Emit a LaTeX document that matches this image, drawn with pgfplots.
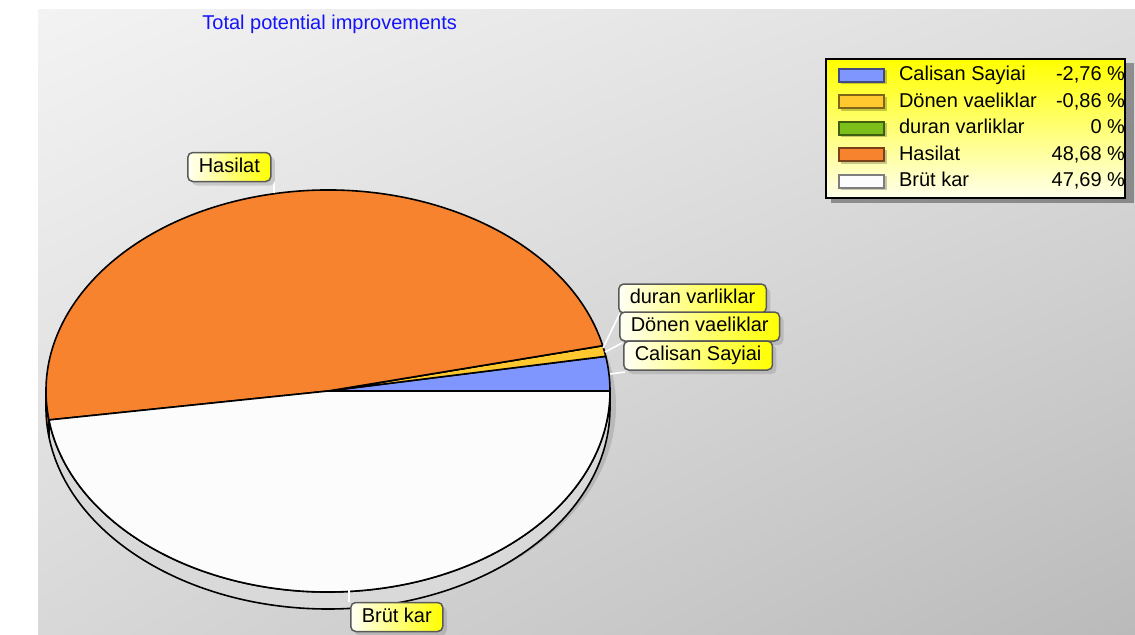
\documentclass[border=0pt]{standalone}
\usepackage{fontspec}
\setmainfont{Liberation Sans}
\usepackage{pgfplots}
\usepackage{pgfplotstable}
\pgfplotsset{compat=1.18}
\usetikzlibrary{shadows,shadings}

\definecolor{pieblue}{RGB}{128,150,255}
\definecolor{pieyellow}{RGB}{255,200,46}
\definecolor{piegreen}{RGB}{124,190,26}
\definecolor{pieorange}{RGB}{248,131,47}
\definecolor{piewhite}{RGB}{252,252,252}
\definecolor{titleblue}{RGB}{20,20,250}
\definecolor{bgul}{RGB}{243,243,243}
\definecolor{bgur}{RGB}{222,222,222}
\definecolor{bgll}{RGB}{216,216,216}
\definecolor{bglr}{RGB}{186,186,186}

\pgfplotstableread[col sep=semicolon]{
name;value;color
Calisan Sayiai;-2.76;pieblue
Dönen vaeliklar;-0.86;pieyellow
duran varliklar;0;piegreen
Hasilat;48.68;pieorange
Brüt kar;47.69;piewhite
}\piedata

\newcommand\legrow[2]{\makebox[75.5pt][l]{#1}\makebox[37.5pt][r]{\pgfmathprintnumber[assume math mode=true,use comma,fixed,precision=2]{#2}~\%}\hspace{2.5pt}}

\pgfplotsset{
  pieswatch/.style={legend image code/.code={%
    \path[draw=none] (0pt,0pt) -- (36.5pt,0pt);
    \fill[draw=none, black, opacity=0.22] (7.5pt,-4.5pt) rectangle (30.5pt,2.5pt);
    \draw[fill=#1, draw=#1!50!black, line width=0.8pt] (6.5pt,-3.25pt) rectangle (29pt,3.25pt);}},
}
\tikzset{
  lbl/.style={draw=black!65, line width=0.75pt, rounded corners=2.5pt,
    left color=white!96!yellow, right color=yellow,
    inner xsep=5.5pt, inner ysep=0pt, minimum height=14.5pt,
    text height=7.2pt, text depth=2pt, anchor=west,
    font=\fontsize{10}{12}\selectfont,
    drop shadow={shadow xshift=2pt, shadow yshift=-2pt, opacity=0.3}},
}

\begin{document}
\begin{tikzpicture}
\begin{axis}[
  scale only axis, width=567.5pt, height=317pt,
  xmin=0, xmax=1135, ymin=0, ymax=634,
  hide axis, clip=false,
  legend cell align=left,
  legend style={
    at={(0.7269,0.9085)}, anchor=north west,
    draw=black, line width=1pt,
    top color=yellow, bottom color=white!92!yellow,
    inner xsep=0pt, inner ysep=1.5pt,
    row sep=0pt, column sep=0pt,
    font=\fontsize{10}{12}\selectfont,
    nodes={inner xsep=0pt, inner ysep=1.75pt, text height=7.5pt, text depth=2.25pt},
  },
]
\pgfplotsextra{
  % background
  \fill[white] (axis cs:0,0) rectangle (axis cs:1135,634);
  \shade[upper left=bgul, upper right=bgur, lower left=bgll, lower right=bglr]
     (axis cs:38,0) rectangle (axis cs:1135,625);
  \node[anchor=base west, text=titleblue, inner sep=0pt, font=\fontsize{10}{12}\selectfont]
     at (axis cs:202,605) {Total potential improvements};
  % shadow behind the legend box
  \fill[black, opacity=0.35] (axis cs:831,431) rectangle (axis cs:1134,571);
  % shadow of the pie
  \fill[black, opacity=0.12] (axis cs:334,228) ellipse[x radius=141pt, y radius=100.5pt];
  % side of the pie (front half)
  \gdef\angA{0}
  \foreach \i in {0,...,4}{
    \pgfplotstablegetelem{\i}{value}\of\piedata
    \pgfmathsetmacro\angB{\angA+abs(\pgfplotsretval)*3.6}
    \pgfplotstablegetelem{\i}{color}\of\piedata
    \edef\col{\pgfplotsretval}
    \pgfmathsetmacro\sA{max(\angA,180)}
    \pgfmathsetmacro\sB{min(\angB,360)}
    \ifdim\sA pt<\sB pt
      \filldraw[fill=\col!86!black, draw=black, line width=0.8pt, line join=round]
        (axis cs:328,243) ++(\sA:141pt and 100.5pt)
        arc[start angle=\sA, end angle=\sB, x radius=141pt, y radius=100.5pt]
        -- ++(0pt,-8.5pt)
        arc[start angle=\sB, end angle=\sA, x radius=141pt, y radius=100.5pt]
        -- cycle;
    \fi
    \xdef\angA{\angB}
  }
  % top face
  \gdef\angA{0}
  \foreach \i in {0,...,4}{
    \pgfplotstablegetelem{\i}{value}\of\piedata
    \pgfmathsetmacro\angB{\angA+abs(\pgfplotsretval)*3.6}
    \pgfplotstablegetelem{\i}{color}\of\piedata
    \edef\col{\pgfplotsretval}
    \filldraw[fill=\col, draw=black, line width=0.8pt, line join=round]
      (axis cs:328,243) -- ++(\angA:141pt and 100.5pt)
      arc[start angle=\angA, end angle=\angB, x radius=141pt, y radius=100.5pt]
      -- cycle;
    \xdef\angA{\angB}
  }
  % leader lines
  \begin{scope}[white, line width=0.8pt]
    \draw (axis cs:274,452) -- (axis cs:274,441);
    \draw (axis cs:603,286) -- (axis cs:620,321);
    \draw (axis cs:605,282) -- (axis cs:622,291);
    \draw (axis cs:610,260) -- (axis cs:625,262);
    \draw (axis cs:349,44) -- (axis cs:349,32);
  \end{scope}
  % slice labels
  \node[lbl] at (axis cs:187,467) {Hasilat};
  \node[lbl] at (axis cs:618,335.5) {duran varliklar};
  \node[lbl] at (axis cs:619,307.5) {Dönen vaeliklar};
  \node[lbl] at (axis cs:623,278.5) {Calisan Sayiai};
  \node[lbl] at (axis cs:350,17) {Brüt kar};
}
\pgfplotsinvokeforeach{0,...,4}{%
  \pgfplotstablegetelem{#1}{color}\of\piedata
  \edef\tmp{\noexpand\addlegendimage{pieswatch=\pgfplotsretval}}\tmp
  \pgfplotstablegetelem{#1}{name}\of\piedata \edef\pname{\pgfplotsretval}%
  \pgfplotstablegetelem{#1}{value}\of\piedata \edef\pval{\pgfplotsretval}%
  \addlegendentryexpanded{\noexpand\legrow{\pname}{\pval}}%
}
\end{axis}
\end{tikzpicture}
\end{document}
